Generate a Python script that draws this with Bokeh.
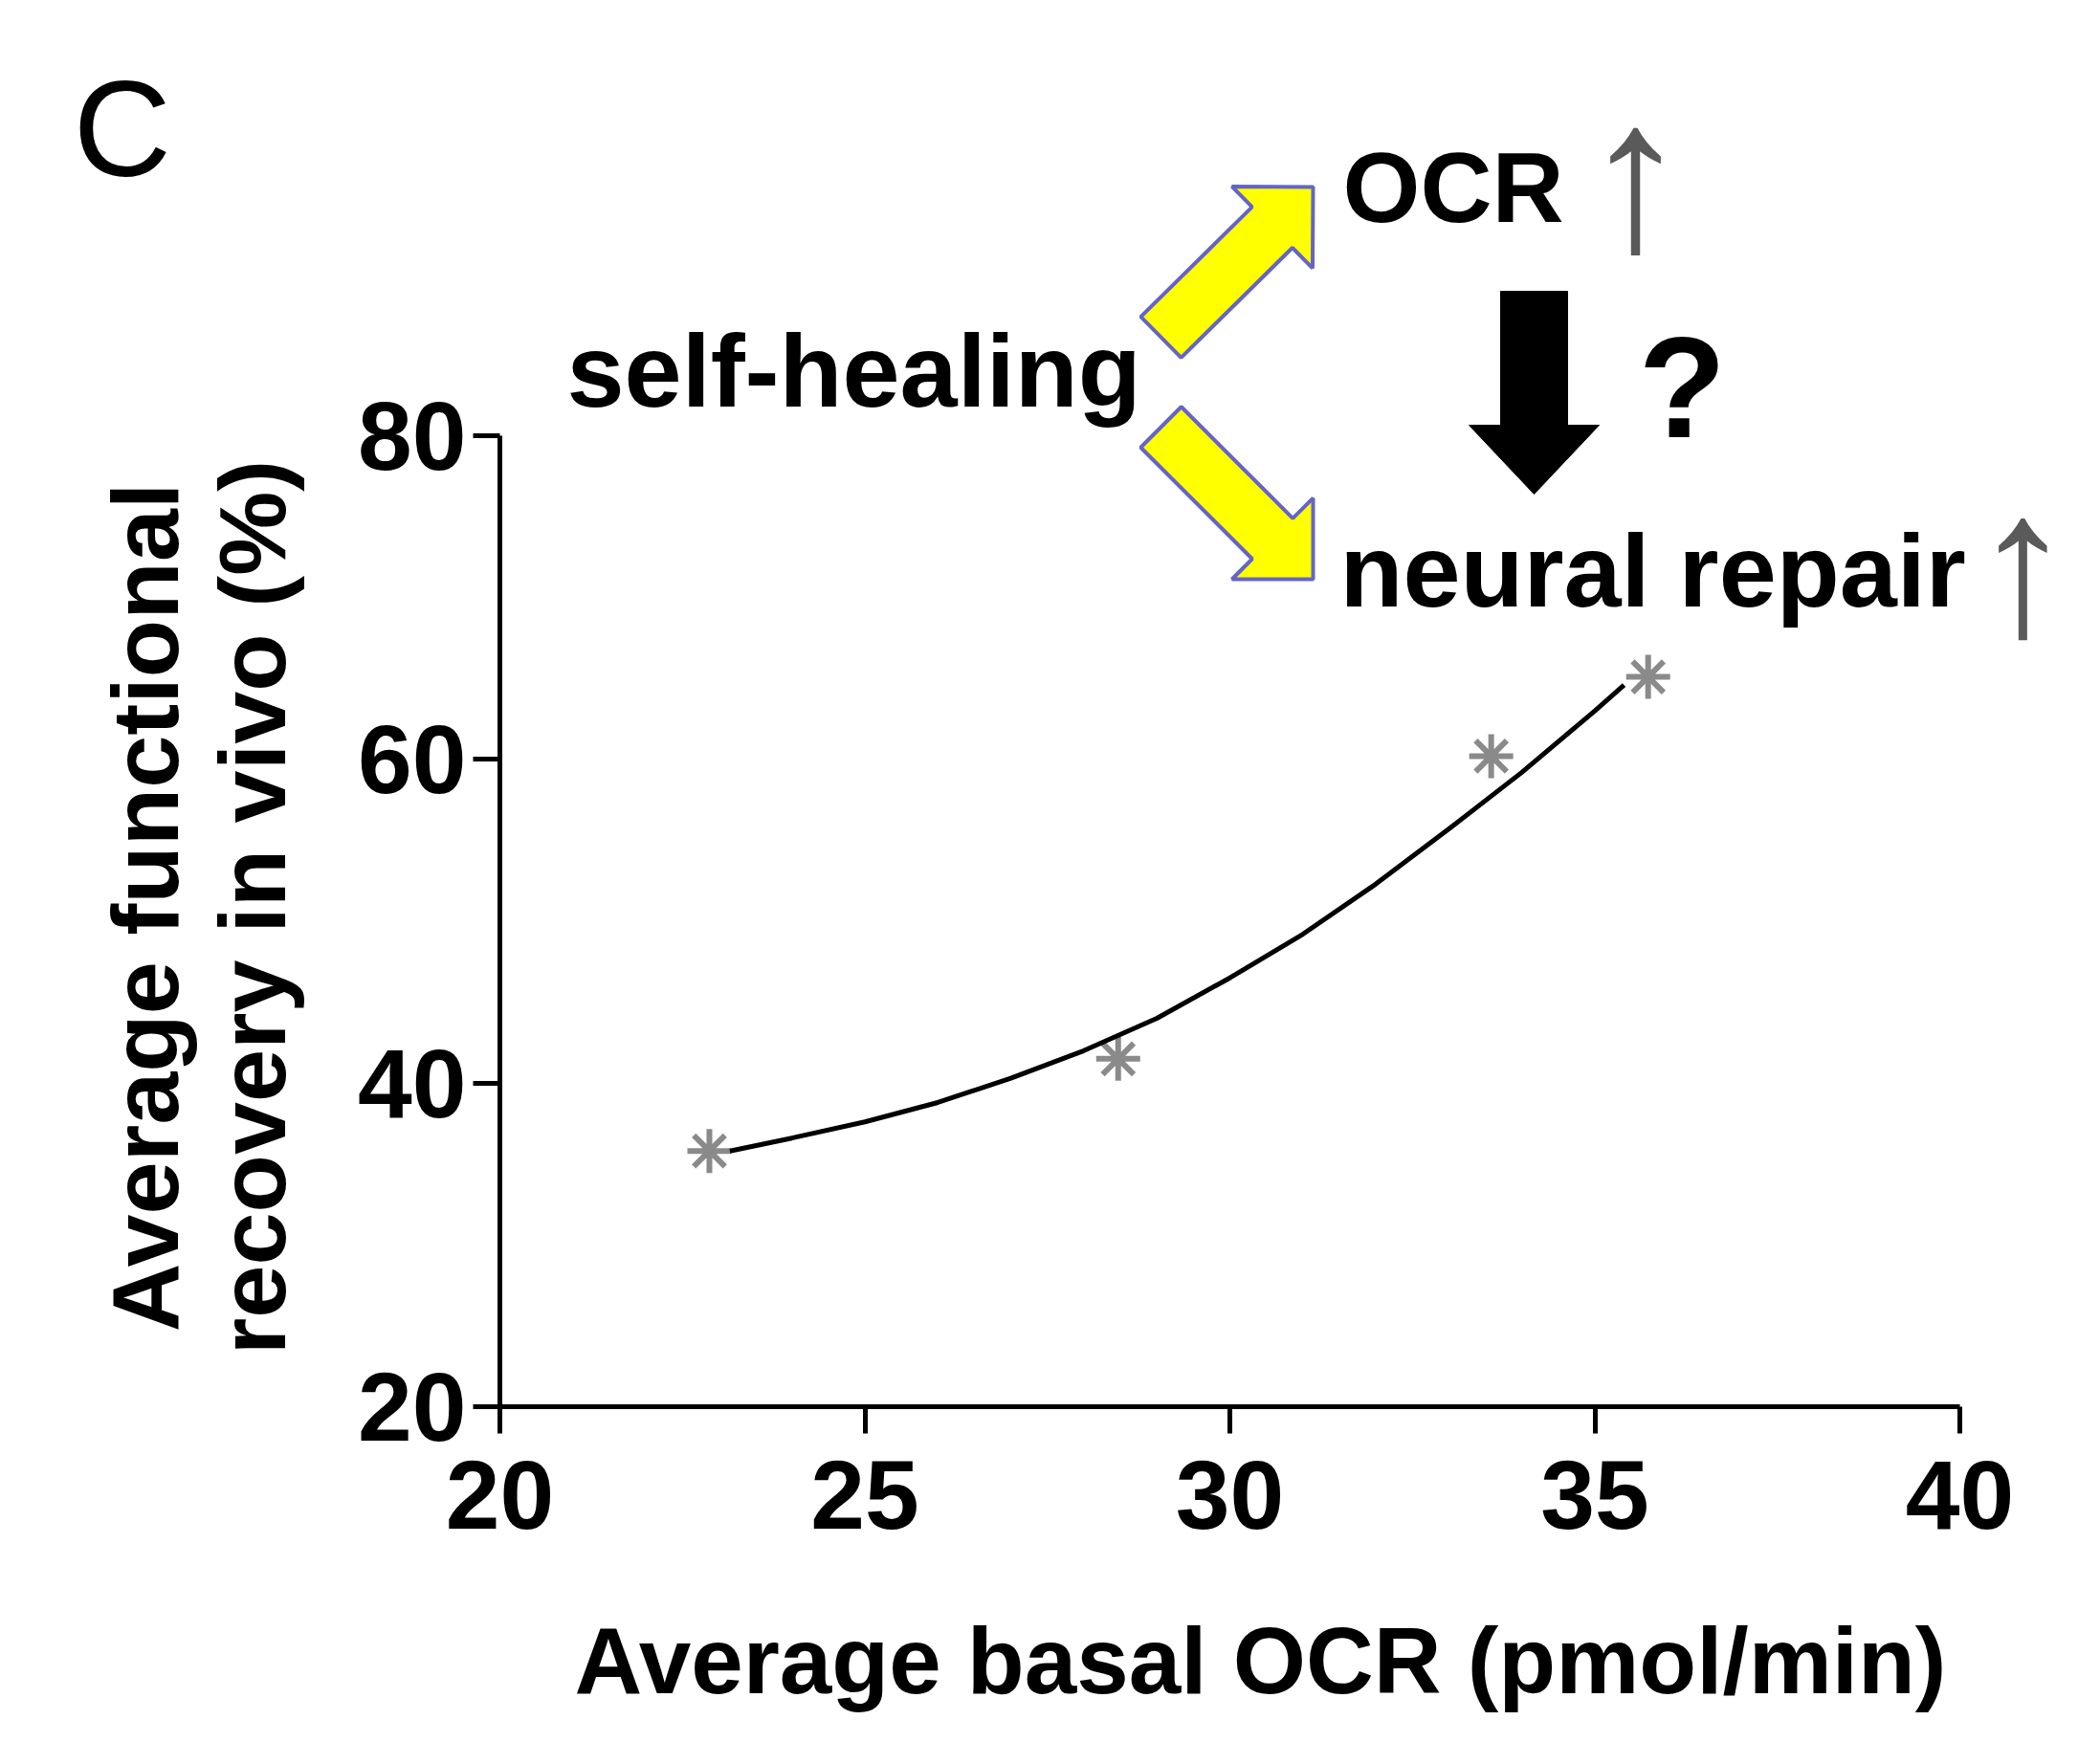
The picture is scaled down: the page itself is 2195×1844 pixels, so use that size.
from bokeh.plotting import figure
from bokeh.models import Range1d, FixedTicker
from bokeh.embed import file_html
from bokeh.resources import INLINE
from bokeh.core.properties import value
import math

# ---------------- data ----------------
basal_ocr = [22.87, 28.47, 33.58, 35.73]
recovery = [35.8, 41.5, 60.2, 65.1]

fit_ocr = [23.15, 24.0, 25.0, 26.0, 27.0, 28.0, 29.0, 30.0, 31.0, 32.0, 33.0, 34.0, 35.0, 35.4]
fit_recovery = [35.8, 36.6, 37.6, 38.8, 40.3, 42.0, 44.0, 46.5, 49.2, 52.3, 55.7, 59.2, 63.0, 64.6]

x_ticks = [20, 25, 30, 35, 40]
y_ticks = [20, 40, 60, 80]

x_label = "Average basal OCR (pmol/min)"
y_label_lines = ["Average functional", "recovery in vivo (%)"]

# ---------------- layout ----------------
W, H = 2195, 1844
PX20, PX40 = 522, 2048                         # x=20 / x=40 pixel
PY20, PY80 = 1470, 455                         # y=20 / y=80 pixel
sx = 20.0 / (PX40 - PX20)
sy = 60.0 / (PY20 - PY80)


def dx(px):
    return 20 + (px - PX20) * sx


def dy(py):
    return 20 + (PY20 - py) * sy


p = figure(width=W, height=H,
           x_range=Range1d(dx(0), dx(W)), y_range=Range1d(dy(H), dy(0)),
           output_backend="svg", toolbar_location=None, min_border=0)
p.outline_line_color = None
p.grid.visible = False
p.background_fill_color = "white"
p.border_fill_color = "white"

FONT = "Liberation Sans"
for ax in (p.xaxis[0], p.yaxis[0]):
    ax.fixed_location = 20
    ax.axis_line_width = 5
    ax.axis_line_color = "black"
    ax.major_tick_line_width = 5
    ax.major_tick_line_color = "black"
    ax.major_tick_out = 28
    ax.major_tick_in = 0
    ax.minor_tick_out = 0
    ax.minor_tick_in = 0
    ax.major_label_text_font = FONT
    ax.major_label_text_font_style = "bold"
    ax.major_label_text_font_size = "102px"
    ax.major_label_text_color = "black"

p.xaxis[0].bounds = (20, 40)
p.yaxis[0].bounds = (20, 80)
p.xaxis[0].ticker = FixedTicker(ticks=x_ticks)
p.yaxis[0].ticker = FixedTicker(ticks=y_ticks)
p.xaxis[0].major_label_standoff = 28
p.yaxis[0].major_label_standoff = 7

# ---------------- data marks ----------------
p.scatter(basal_ocr, recovery, marker="asterisk", size=46,
          line_color="#8a8a8a", line_width=6)
p.line(fit_ocr, fit_recovery, line_color="black", line_width=5)


# ---------------- schematic arrows ----------------
def block_arrow(tail, tip, body_w, head_len, head_w):
    ux, uy = tip[0] - tail[0], tip[1] - tail[1]
    L = math.hypot(ux, uy)
    ux, uy = ux / L, uy / L
    nx, ny = -uy, ux
    bx, by = tip[0] - head_len * ux, tip[1] - head_len * uy
    pts = [
        (tail[0] + nx * body_w / 2, tail[1] + ny * body_w / 2),
        (bx + nx * body_w / 2, by + ny * body_w / 2),
        (bx + nx * head_w / 2, by + ny * head_w / 2),
        tip,
        (bx - nx * head_w / 2, by - ny * head_w / 2),
        (bx - nx * body_w / 2, by - ny * body_w / 2),
        (tail[0] - nx * body_w / 2, tail[1] - ny * body_w / 2),
    ]
    return [dx(q[0]) for q in pts], [dy(q[1]) for q in pts]


up_x, up_y = block_arrow((1213, 352), (1372, 195), 60, 60, 120)
dn_x, dn_y = block_arrow((1213, 446), (1372, 605), 60, 60, 120)
p.patches([up_x, dn_x], [up_y, dn_y], fill_color="#ffff00",
          line_color="#6464c8", line_width=4)

bk_x, bk_y = block_arrow((1603, 304), (1603, 516), 70, 72, 136)
p.patch(bk_x, bk_y, fill_color="black", line_color="black", line_width=1)

# ---------------- texts ----------------
SHIFT = 0.37   # empirical baseline correction (fraction of font size)


def put_text(txt, px, py, size, style="bold", color="black", align="left", angle=0.0):
    # (px, py): wanted position of the baseline anchor, in canvas pixels
    if angle == 0.0:
        py = py - SHIFT * size
    else:
        px = px - SHIFT * size
    p.text(x=[dx(px)], y=[dy(py)], text=[txt], text_font=value(FONT),
           text_font_size=value(f"{size}px"), text_font_style=style,
           text_color=color, text_align=align, text_baseline="alphabetic",
           angle=angle)


put_text("C", 76, 187, 142, style="normal")
put_text("OCR", 1403, 234, 104)
put_text("\u2191", 1709, 265, 225, style="normal", color="#5a5a5a", align="center")
put_text("self-healing", 592, 427, 108)
put_text("neural repair", 1400, 636, 108)
put_text("\u2191", 2114, 668, 215, style="normal", color="#5a5a5a", align="center")
put_text("?", 1712, 460, 150)

# axis titles
put_text(x_label, 1317, 1772, 98, align="center")
put_text(y_label_lines[0], 188, 948, 99, align="center", angle=math.pi / 2)
put_text(y_label_lines[1], 300, 948, 99, align="center", angle=math.pi / 2)

open("out.html", "w").write(file_html(p, INLINE))
